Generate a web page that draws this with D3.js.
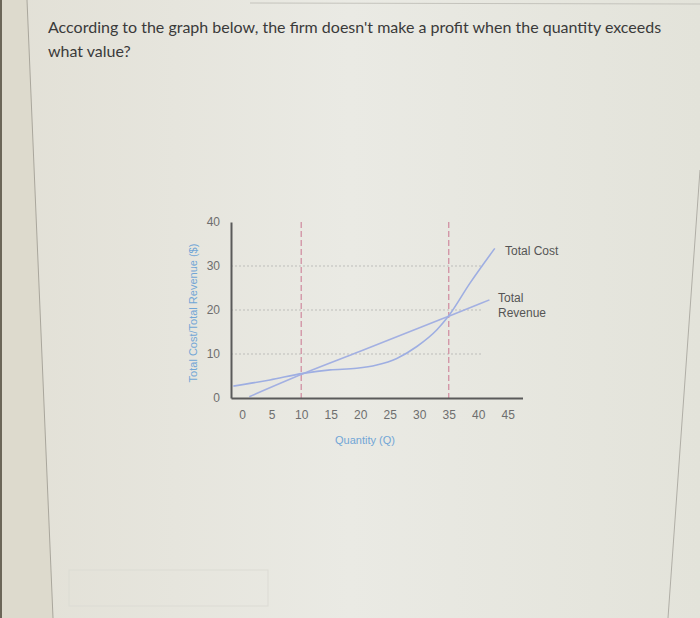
<!DOCTYPE html>
<head>
<meta charset="utf-8">
<script src="https://d3js.org/d3.v7.min.js"></script>
<style>
  body { margin: 0; background: #e7e6df; }
  svg { display: block; }
</style>
</head>
<body>
  <svg id="playground" width="700" height="618"></svg>
  <script>
    const question = [
      "According to the graph below, the firm doesn't make a profit when the quantity exceeds",
      "what value?"
    ];
    const xTicks = [0, 5, 10, 15, 20, 25, 30, 35, 40, 45];
    const yTicks = [0, 10, 20, 30, 40];
    const gridValues = [10, 20, 30];
    const markers = [10, 35];
    // [quantity, dollars]
    const totalCost = [[-1.5, 2.7], [4.7, 4.1], [10.3, 5.6], [14.9, 6.4], [19.4, 6.75],
      [22.8, 7.5], [26.2, 9.0], [29.6, 11.7], [33, 15.5], [34.9, 18.5], [38.6, 26.1], [42.8, 34]];
    const totalRevenue = [[1.2, 0.3], [10.3, 5.5], [20, 10.6], [35, 18.6], [41.9, 22.3]];

    const svg = d3.select("svg");

    // the photographed screen
    const defs = svg.append("defs");
    const bg = defs.append("linearGradient").attr("id", "bg");
    bg.append("stop").attr("offset", "0").attr("stop-color", "#e2e0d6");
    bg.append("stop").attr("offset", "0.5").attr("stop-color", "#eaeae4");
    bg.append("stop").attr("offset", "1").attr("stop-color", "#e3e3da");
    svg.append("rect").attr("width", 700).attr("height", 618).attr("fill", "url(#bg)");
    svg.append("path").attr("d", "M0,0L27,0L53,618L0,618Z").attr("fill", "#dddacd");
    svg.append("rect").attr("width", 2).attr("height", 618).attr("fill", "#6b6658");
    svg.append("line").attr("x1", 27).attr("y1", 0).attr("x2", 53).attr("y2", 618)
      .attr("stroke", "#a9a69c").attr("stroke-width", 1);
    svg.append("line").attr("x1", 700).attr("y1", 170).attr("x2", 668).attr("y2", 618)
      .attr("stroke", "#b0aea6").attr("stroke-width", 1);
    svg.append("line").attr("x1", 250).attr("y1", 3).attr("x2", 700).attr("y2", 4)
      .attr("stroke", "#c4c3bc").attr("stroke-width", 1);
    svg.append("rect").attr("x", 69).attr("y", 570).attr("width", 199).attr("height", 36)
      .attr("fill", "none").attr("stroke", "#dcdbd4").attr("stroke-width", 1);

    // question
    svg.append("g")
      .selectAll("text")
      .data(question)
      .join("text")
      .attr("x", 48)
      .attr("y", (d, i) => 33 + i * 24)
      .attr("font-family", "Lato")
      .attr("font-size", 16)
      .attr("fill", "#3a3a3a")
      .text(d => d);

    // chart
    const x = d3.scaleLinear().domain([-1.9, 47.5]).range([231, 522.5]);
    const y = d3.scaleLinear().domain([0, 40]).range([398, 222]);
    const font = "Liberation Sans, Arial, sans-serif";

    svg.append("g")
      .selectAll("line")
      .data(gridValues)
      .join("line")
      .attr("x1", x(-1.9)).attr("x2", x(40.5))
      .attr("y1", d => y(d)).attr("y2", d => y(d))
      .attr("stroke", "#bdbdba")
      .attr("stroke-width", 1)
      .attr("stroke-dasharray", "2,2");

    svg.append("g")
      .selectAll("line")
      .data(markers)
      .join("line")
      .attr("x1", d => x(d)).attr("x2", d => x(d))
      .attr("y1", y(40)).attr("y2", y(0))
      .attr("stroke", "#d190a2")
      .attr("stroke-width", 1.3)
      .attr("stroke-dasharray", "6,3");

    const line = d3.line().x(d => x(d[0])).y(d => y(d[1])).curve(d3.curveMonotoneX);
    svg.append("path").datum(totalRevenue).attr("d", line)
      .attr("fill", "none").attr("stroke", "#a3b0e2").attr("stroke-width", 1.6);
    svg.append("path").datum(totalCost).attr("d", line)
      .attr("fill", "none").attr("stroke", "#9eaee2").attr("stroke-width", 1.6);

    // axes
    const xAxis = svg.append("g")
      .attr("transform", `translate(0,${y(0)})`)
      .call(d3.axisBottom(x).tickValues(xTicks).tickSize(0).tickPadding(12));
    const yAxis = svg.append("g")
      .attr("transform", `translate(${x(-1.9)},0)`)
      .call(d3.axisLeft(y).tickValues(yTicks).tickSize(0).tickPadding(11));
    [xAxis, yAxis].forEach(a => {
      a.select(".domain").attr("stroke", "#5a5a5a").attr("stroke-width", 2);
      a.selectAll("text").attr("font-family", font).attr("font-size", 12).attr("fill", "#6e6e6e");
    });

    svg.append("text")
      .attr("x", 365).attr("y", 444)
      .attr("text-anchor", "middle")
      .attr("font-family", font).attr("font-size", 11)
      .attr("fill", "#72a6d6")
      .text("Quantity (Q)");
    svg.append("text")
      .attr("transform", "translate(197,313) rotate(-90)")
      .attr("text-anchor", "middle")
      .attr("font-family", font).attr("font-size", 11)
      .attr("fill", "#72a6d6")
      .text("Total Cost/Total Revenue ($)");

    // curve labels
    const labels = [["Total Cost", 505, 255], ["Total", 498, 302], ["Revenue", 498, 317]];
    svg.append("g")
      .selectAll("text")
      .data(labels)
      .join("text")
      .attr("x", d => d[1]).attr("y", d => d[2])
      .attr("font-family", font).attr("font-size", 12)
      .attr("fill", "#555")
      .text(d => d[0]);
  </script>
</body>
